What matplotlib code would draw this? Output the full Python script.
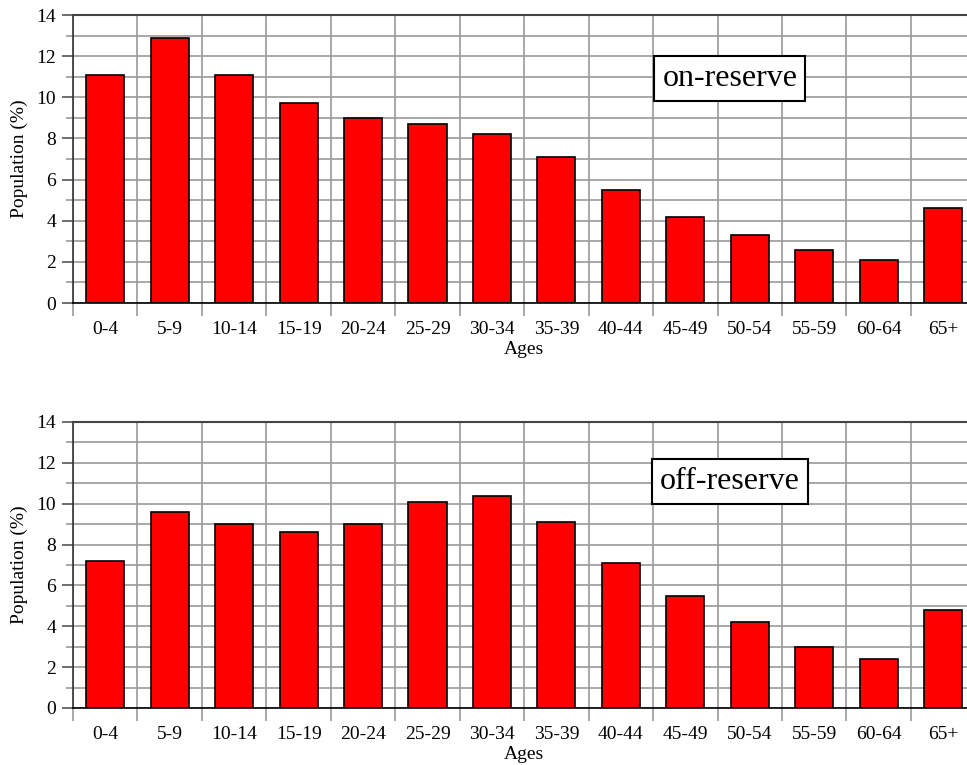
import matplotlib
matplotlib.use("Agg")
import matplotlib.pyplot as plt
from matplotlib.ticker import MultipleLocator, FixedLocator, NullFormatter
import numpy as np

plt.rcParams['font.family'] = ['Liberation Serif', 'DejaVu Serif']

ages = ["0-4", "5-9", "10-14", "15-19", "20-24", "25-29", "30-34",
        "35-39", "40-44", "45-49", "50-54", "55-59", "60-64", "65+"]
on_reserve = [11.1, 12.9, 11.1, 9.7, 9.0, 8.7, 8.2, 7.1, 5.5, 4.2, 3.3, 2.6, 2.1, 4.6]
off_reserve = [7.2, 9.6, 9.0, 8.6, 9.0, 10.1, 10.4, 9.1, 7.1, 5.5, 4.2, 3.0, 2.4, 4.8]
panel_labels = ["on-reserve", "off-reserve"]

W, H = 967, 765
fig = plt.figure(figsize=(W / 100, H / 100), dpi=100)

left = 73 / W
width = 902.4 / W
ax_top = fig.add_axes([left, (H - 303) / H, width, 288 / H])
ax_bot = fig.add_axes([left, (H - 708) / H, width, 286 / H])

grid_color = "#9a9a9a"
x = np.arange(len(ages))

for ax, values, label, box_y in [(ax_top, on_reserve, panel_labels[0], 0.781),
                                 (ax_bot, off_reserve, panel_labels[1], 0.792)]:
    ax.bar(x, values, width=0.59, color="#ff0000", edgecolor="black",
           linewidth=1.2, zorder=3)
    ax.set_xlim(-0.5, len(ages) - 0.5)
    ax.set_ylim(0, 14)

    # category labels at centres, grid/ticks at boundaries
    ax.set_xticks(x)
    ax.set_xticklabels(ages, fontsize=14)
    ax.xaxis.set_minor_locator(FixedLocator(np.arange(len(ages) + 1) - 0.5))
    ax.tick_params(axis="x", which="major", length=0, pad=13)
    ax.tick_params(axis="x", which="minor", length=9, width=1.2, color=grid_color)

    ax.yaxis.set_major_locator(MultipleLocator(2))
    ax.yaxis.set_minor_locator(MultipleLocator(1))
    ax.yaxis.set_minor_formatter(NullFormatter())
    ax.tick_params(axis="y", which="major", length=8, width=1.2,
                   color="#555555", labelsize=14, pad=4)
    ax.tick_params(axis="y", which="minor", length=5, width=1.2, color=grid_color)

    ax.grid(True, which="minor", axis="x", color=grid_color, linewidth=1.2, zorder=0)
    ax.grid(True, which="both", axis="y", color=grid_color, linewidth=1.2, zorder=0)
    ax.set_axisbelow(True)

    ax.spines["right"].set_visible(False)
    ax.spines["top"].set_color("#444444")
    ax.spines["top"].set_linewidth(1.5)
    ax.spines["left"].set_color("#333333")
    ax.spines["left"].set_linewidth(1.2)
    ax.spines["bottom"].set_color("black")
    ax.spines["bottom"].set_linewidth(1.2)
    ax.spines["bottom"].set_zorder(4)

    ax.set_xlabel("Ages", fontsize=14, labelpad=2)
    ax.set_ylabel("Population (%)", fontsize=14, labelpad=6)

    ax.text(0.728, box_y, label, transform=ax.transAxes, fontsize=23,
            ha="center", va="center", zorder=5,
            bbox=dict(boxstyle="square,pad=0.25", facecolor="white",
                      edgecolor="black", linewidth=1.5))

fig.savefig("out.png", dpi=100)
